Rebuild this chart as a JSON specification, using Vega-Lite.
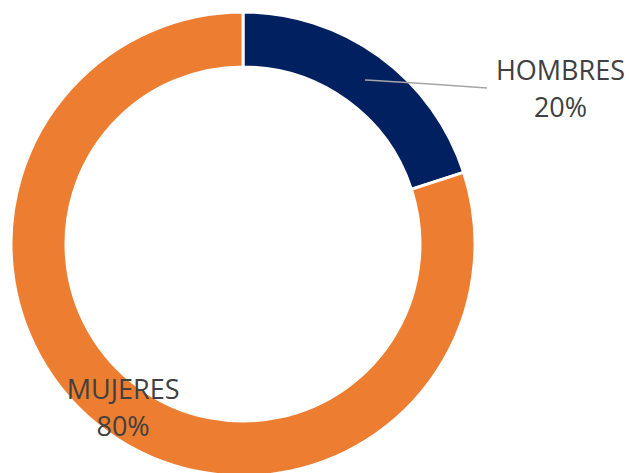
{
  "$schema": "https://vega.github.io/schema/vega-lite/v6.json",
  "width": 486,
  "height": 488,
  "autosize": {"type": "none"},
  "padding": {"left": 0, "top": 0, "right": 143, "bottom": 0},
  "background": "white",
  "config": {"view": {"stroke": null}},
  "datasets": {
    "genero": [
      {"genero": "HOMBRES", "valor": 0.2, "orden": 1},
      {"genero": "MUJERES", "valor": 0.8, "orden": 2}
    ],
    "guia": [
      {"px": 365, "py": 80, "p": 1},
      {"px": 430, "py": 84, "p": 2},
      {"px": 487, "py": 88, "p": 3}
    ]
  },
  "layer": [
    {
      "data": {"name": "genero"},
      "mark": {"type": "arc", "outerRadius": 232, "innerRadius": 177, "stroke": "white", "strokeWidth": 3},
      "encoding": {
        "theta": {"field": "valor", "type": "quantitative", "stack": true},
        "order": {"field": "orden", "type": "quantitative"},
        "color": {"field": "genero", "type": "nominal", "scale": {"domain": ["HOMBRES", "MUJERES"], "range": ["#002060", "#ED7D31"]}, "legend": null}
      }
    },
    {
      "data": {"name": "genero"},
      "mark": {"type": "text", "radius": 204, "dy": -18, "font": "Open Sans", "fontSize": 27, "color": "#404040"},
      "encoding": {
        "theta": {"field": "valor", "type": "quantitative", "stack": true},
        "order": {"field": "orden", "type": "quantitative"},
        "text": {"field": "genero", "type": "nominal"},
        "opacity": {"condition": {"test": "datum.genero === 'MUJERES'", "value": 1}, "value": 0}
      }
    },
    {
      "data": {"name": "genero"},
      "mark": {"type": "text", "radius": 204, "dy": 19, "font": "Open Sans", "fontSize": 27, "color": "#404040"},
      "encoding": {
        "theta": {"field": "valor", "type": "quantitative", "stack": true},
        "order": {"field": "orden", "type": "quantitative"},
        "text": {"field": "valor", "type": "quantitative", "format": ".0%"},
        "opacity": {"condition": {"test": "datum.genero === 'MUJERES'", "value": 1}, "value": 0}
      }
    },
    {
      "data": {"name": "genero"},
      "mark": {"type": "text", "radius": 353, "thetaOffset": 0.49, "dy": -18, "font": "Open Sans", "fontSize": 27, "color": "#404040"},
      "encoding": {
        "theta": {"field": "valor", "type": "quantitative", "stack": true},
        "order": {"field": "orden", "type": "quantitative"},
        "text": {"field": "genero", "type": "nominal"},
        "opacity": {"condition": {"test": "datum.genero === 'HOMBRES'", "value": 1}, "value": 0}
      }
    },
    {
      "data": {"name": "genero"},
      "mark": {"type": "text", "radius": 353, "thetaOffset": 0.49, "dy": 19, "font": "Open Sans", "fontSize": 27, "color": "#404040"},
      "encoding": {
        "theta": {"field": "valor", "type": "quantitative", "stack": true},
        "order": {"field": "orden", "type": "quantitative"},
        "text": {"field": "valor", "type": "quantitative", "format": ".0%"},
        "opacity": {"condition": {"test": "datum.genero === 'HOMBRES'", "value": 1}, "value": 0}
      }
    },
    {
      "data": {"name": "guia"},
      "mark": {"type": "line", "color": "#A6A6A6", "strokeWidth": 1.5, "interpolate": "monotone"},
      "encoding": {
        "x": {"field": "px", "type": "quantitative", "scale": {"domain": [0, 486]}, "axis": null},
        "y": {"field": "py", "type": "quantitative", "scale": {"domain": [0, 488], "reverse": true}, "axis": null},
        "order": {"field": "p", "type": "quantitative"}
      }
    }
  ]
}
